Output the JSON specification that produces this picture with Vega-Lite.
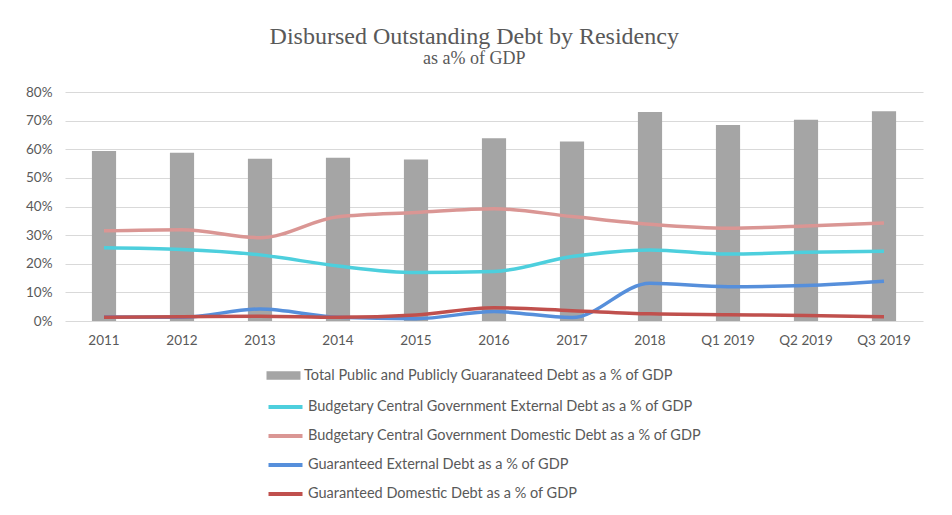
{
  "$schema": "https://vega.github.io/schema/vega-lite/v6.json",
  "autosize": {"type": "none"},
  "padding": {"left": 65, "top": 92, "right": 29, "bottom": 194},
  "width": 858,
  "height": 229,
  "background": "white",
  "title": {
    "text": "Disbursed Outstanding Debt by Residency",
    "subtitle": "as a% of GDP",
    "anchor": "middle",
    "frame": "bounds",
    "font": "Liberation Serif",
    "fontSize": 24,
    "fontWeight": "normal",
    "color": "#595959",
    "subtitleFont": "Liberation Serif",
    "subtitleFontSize": 18,
    "subtitleColor": "#595959",
    "subtitlePadding": 1,
    "offset": 17
  },
  "datasets": {
    "bars": [
      {"period": "2011", "series": "Total Public and Publicly Guaranateed Debt as a % of GDP", "value": 59.4},
      {"period": "2012", "series": "Total Public and Publicly Guaranateed Debt as a % of GDP", "value": 58.8},
      {"period": "2013", "series": "Total Public and Publicly Guaranateed Debt as a % of GDP", "value": 56.7},
      {"period": "2014", "series": "Total Public and Publicly Guaranateed Debt as a % of GDP", "value": 57.0},
      {"period": "2015", "series": "Total Public and Publicly Guaranateed Debt as a % of GDP", "value": 56.4},
      {"period": "2016", "series": "Total Public and Publicly Guaranateed Debt as a % of GDP", "value": 63.8},
      {"period": "2017", "series": "Total Public and Publicly Guaranateed Debt as a % of GDP", "value": 62.7},
      {"period": "2018", "series": "Total Public and Publicly Guaranateed Debt as a % of GDP", "value": 73.0},
      {"period": "Q1 2019", "series": "Total Public and Publicly Guaranateed Debt as a % of GDP", "value": 68.5},
      {"period": "Q2 2019", "series": "Total Public and Publicly Guaranateed Debt as a % of GDP", "value": 70.3},
      {"period": "Q3 2019", "series": "Total Public and Publicly Guaranateed Debt as a % of GDP", "value": 73.3}
    ],
    "lines": [
      {"period": "2011", "series": "Budgetary Central Government External Debt as a % of GDP", "value": 25.6},
      {"period": "2012", "series": "Budgetary Central Government External Debt as a % of GDP", "value": 25.0},
      {"period": "2013", "series": "Budgetary Central Government External Debt as a % of GDP", "value": 23.1},
      {"period": "2014", "series": "Budgetary Central Government External Debt as a % of GDP", "value": 19.2},
      {"period": "2015", "series": "Budgetary Central Government External Debt as a % of GDP", "value": 16.9},
      {"period": "2016", "series": "Budgetary Central Government External Debt as a % of GDP", "value": 17.3},
      {"period": "2017", "series": "Budgetary Central Government External Debt as a % of GDP", "value": 22.5},
      {"period": "2018", "series": "Budgetary Central Government External Debt as a % of GDP", "value": 24.8},
      {"period": "Q1 2019", "series": "Budgetary Central Government External Debt as a % of GDP", "value": 23.4},
      {"period": "Q2 2019", "series": "Budgetary Central Government External Debt as a % of GDP", "value": 24.0},
      {"period": "Q3 2019", "series": "Budgetary Central Government External Debt as a % of GDP", "value": 24.4},
      {"period": "2011", "series": "Budgetary Central Government Domestic Debt as a % of GDP", "value": 31.5},
      {"period": "2012", "series": "Budgetary Central Government Domestic Debt as a % of GDP", "value": 31.9},
      {"period": "2013", "series": "Budgetary Central Government Domestic Debt as a % of GDP", "value": 29.1},
      {"period": "2014", "series": "Budgetary Central Government Domestic Debt as a % of GDP", "value": 36.4},
      {"period": "2015", "series": "Budgetary Central Government Domestic Debt as a % of GDP", "value": 37.9},
      {"period": "2016", "series": "Budgetary Central Government Domestic Debt as a % of GDP", "value": 39.2},
      {"period": "2017", "series": "Budgetary Central Government Domestic Debt as a % of GDP", "value": 36.5},
      {"period": "2018", "series": "Budgetary Central Government Domestic Debt as a % of GDP", "value": 33.8},
      {"period": "Q1 2019", "series": "Budgetary Central Government Domestic Debt as a % of GDP", "value": 32.4},
      {"period": "Q2 2019", "series": "Budgetary Central Government Domestic Debt as a % of GDP", "value": 33.2},
      {"period": "Q3 2019", "series": "Budgetary Central Government Domestic Debt as a % of GDP", "value": 34.2},
      {"period": "2011", "series": "Guaranteed External Debt as a % of GDP", "value": 1.4},
      {"period": "2012", "series": "Guaranteed External Debt as a % of GDP", "value": 1.3},
      {"period": "2013", "series": "Guaranteed External Debt as a % of GDP", "value": 4.2},
      {"period": "2014", "series": "Guaranteed External Debt as a % of GDP", "value": 1.3},
      {"period": "2015", "series": "Guaranteed External Debt as a % of GDP", "value": 0.8},
      {"period": "2016", "series": "Guaranteed External Debt as a % of GDP", "value": 3.3},
      {"period": "2017", "series": "Guaranteed External Debt as a % of GDP", "value": 1.2},
      {"period": "2018", "series": "Guaranteed External Debt as a % of GDP", "value": 13.2},
      {"period": "Q1 2019", "series": "Guaranteed External Debt as a % of GDP", "value": 12.0},
      {"period": "Q2 2019", "series": "Guaranteed External Debt as a % of GDP", "value": 12.4},
      {"period": "Q3 2019", "series": "Guaranteed External Debt as a % of GDP", "value": 13.9},
      {"period": "2011", "series": "Guaranteed Domestic Debt as a % of GDP", "value": 1.3},
      {"period": "2012", "series": "Guaranteed Domestic Debt as a % of GDP", "value": 1.5},
      {"period": "2013", "series": "Guaranteed Domestic Debt as a % of GDP", "value": 1.7},
      {"period": "2014", "series": "Guaranteed Domestic Debt as a % of GDP", "value": 1.3},
      {"period": "2015", "series": "Guaranteed Domestic Debt as a % of GDP", "value": 2.1},
      {"period": "2016", "series": "Guaranteed Domestic Debt as a % of GDP", "value": 4.6},
      {"period": "2017", "series": "Guaranteed Domestic Debt as a % of GDP", "value": 3.6},
      {"period": "2018", "series": "Guaranteed Domestic Debt as a % of GDP", "value": 2.5},
      {"period": "Q1 2019", "series": "Guaranteed Domestic Debt as a % of GDP", "value": 2.2},
      {"period": "Q2 2019", "series": "Guaranteed Domestic Debt as a % of GDP", "value": 1.9},
      {"period": "Q3 2019", "series": "Guaranteed Domestic Debt as a % of GDP", "value": 1.5}
    ]
  },
  "encoding": {
    "x": {
      "field": "period",
      "type": "nominal",
      "sort": null,
      "title": null,
      "scale": {"paddingInner": 0.69, "paddingOuter": 0.345},
      "axis": {
        "domain": false,
        "ticks": false,
        "grid": false,
        "labelAngle": 0,
        "labelPadding": 12,
        "labelFont": "Lato",
        "labelFontSize": 13.5,
        "labelColor": "#595959"
      }
    },
    "y": {
      "field": "value",
      "type": "quantitative",
      "title": null,
      "scale": {"domain": [0, 80], "nice": false},
      "axis": {
        "values": [0, 10, 20, 30, 40, 50, 60, 70, 80],
        "labelExpr": "datum.value + '%'",
        "domain": false,
        "ticks": false,
        "grid": true,
        "gridColor": "#d9d9d9",
        "gridWidth": 1,
        "labelPadding": 13,
        "labelFont": "Lato",
        "labelFontSize": 13.5,
        "labelColor": "#595959"
      }
    }
  },
  "layer": [
    {
      "data": {"name": "bars"},
      "mark": {"type": "bar"},
      "encoding": {
        "fill": {
          "field": "series",
          "type": "nominal",
          "scale": {"range": ["#a5a5a5"]},
          "legend": {
            "title": null,
            "orient": "none",
            "legendX": 210,
            "legendY": 275,
            "padding": 0,
            "symbolType": "M-2,-0.5L2,-0.5L2,0.5L-2,0.5Z",
            "symbolSize": 289,
            "symbolStrokeWidth": 0,
            "labelOffset": 12,
            "labelFont": "Lato",
            "labelFontSize": 14.5,
            "labelColor": "#595959",
            "labelLimit": 600
          }
        }
      }
    },
    {
      "data": {"name": "lines"},
      "mark": {"type": "line", "strokeWidth": 3.5, "interpolate": "monotone"},
      "encoding": {
        "stroke": {
          "field": "series",
          "type": "nominal",
          "sort": null,
          "scale": {
            "domain": [
              "Budgetary Central Government External Debt as a % of GDP",
              "Budgetary Central Government Domestic Debt as a % of GDP",
              "Guaranteed External Debt as a % of GDP",
              "Guaranteed Domestic Debt as a % of GDP"
            ],
            "range": ["#4dcfdd", "#da9694", "#568fdb", "#c0504d"]
          },
          "legend": {
            "title": null,
            "orient": "none",
            "legendX": 210,
            "legendY": 304.5,
            "padding": 0,
            "rowPadding": 10,
            "symbolType": "M-2,0L2,0",
            "symbolSize": 289,
            "symbolStrokeWidth": 4,
            "labelOffset": 12,
            "labelFont": "Lato",
            "labelFontSize": 14.5,
            "labelColor": "#595959",
            "labelLimit": 600
          }
        }
      }
    }
  ],
  "config": {
    "view": {"stroke": null}
  }
}
